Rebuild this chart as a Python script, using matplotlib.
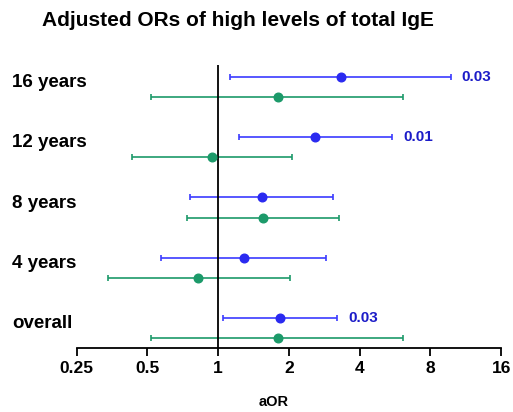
import matplotlib
matplotlib.use("Agg")
import matplotlib.pyplot as plt
import numpy as np

plt.rcParams['font.family'] = ['Liberation Sans', 'DejaVu Sans']

groups = ['16 years', '12 years', '8 years', '4 years', 'overall']

blue_or = [3.32, 2.59, 1.53, 1.29, 1.835]
blue_lo = [1.12, 1.23, 0.76, 0.57, 1.05]
blue_hi = [9.76, 5.49, 3.07, 2.87, 3.21]
blue_p = ['0.03', '0.01', '', '', '0.03']

green_or = [1.79, 0.94, 1.55, 0.82, 1.79]
green_lo = [0.52, 0.43, 0.74, 0.34, 0.52]
green_hi = [6.14, 2.06, 3.28, 2.02, 6.14]

ticks = [0.25, 0.5, 1, 2, 4, 8, 16]
tick_labels = ['0.25', '0.5', '1', '2', '4', '8', '16']

blue = '#3b3bff'
blue_dot = '#2a2af0'
blue_txt = '#1c1cc8'
green = '#1c9a6a'

fig = plt.figure(figsize=(5.13, 4.12), dpi=100)
ax = fig.add_axes([0.1495, 0.155, 0.8275, 0.687])

ypos = np.arange(len(groups))[::-1] + 1.0
off = 0.17

bo = np.array(blue_or)
ax.errorbar(bo, ypos + off, xerr=[bo - np.array(blue_lo), np.array(blue_hi) - bo],
            fmt='o', color=blue, mfc=blue_dot, mec=blue_dot, ms=6.2,
            elinewidth=1.2, capsize=2.3, capthick=1.2)
go = np.array(green_or)
ax.errorbar(go, ypos - off, xerr=[go - np.array(green_lo), np.array(green_hi) - go],
            fmt='o', color=green, mfc=green, mec=green, ms=6.2,
            elinewidth=1.2, capsize=2.3, capthick=1.2)

# p-values next to the blue bars
for y, hi, p in zip(ypos, blue_hi, blue_p):
    if p:
        ax.annotate(p, (hi, y + off), xytext=(8, 0), textcoords='offset points',
                    ha='left', va='center', fontsize=11, fontweight='bold', color=blue_txt)

ax.axvline(1, color='black', lw=1.3)

ax.set_xscale('log', base=2)
ax.set_xlim(0.25, 16)
ax.set_ylim(0.67, 5.36)
ax.set_xticks(ticks)
ax.set_xticklabels(tick_labels, fontsize=12.5, fontweight='bold')
ax.minorticks_off()
ax.set_yticks([])
ax.tick_params(axis='x', length=6, width=1.3, pad=3)
for s in ['left', 'right', 'top']:
    ax.spines[s].set_visible(False)
ax.spines['bottom'].set_linewidth(1.3)

# row labels
for y, g in zip(ypos, groups):
    ax.text(-0.152, y + 0.07, g, transform=ax.get_yaxis_transform(),
            ha='left', va='center', fontsize=13.5, fontweight='bold')

fig.text(238 / 513, 1 - 21 / 412, 'Adjusted ORs of high levels of total IgE',
         ha='center', va='center', fontsize=15, fontweight='bold')
fig.text(274 / 513, 1 - 402 / 412, 'aOR', ha='center', va='center',
         fontsize=10.5, fontweight='bold')

fig.savefig('out.png', dpi=100)
